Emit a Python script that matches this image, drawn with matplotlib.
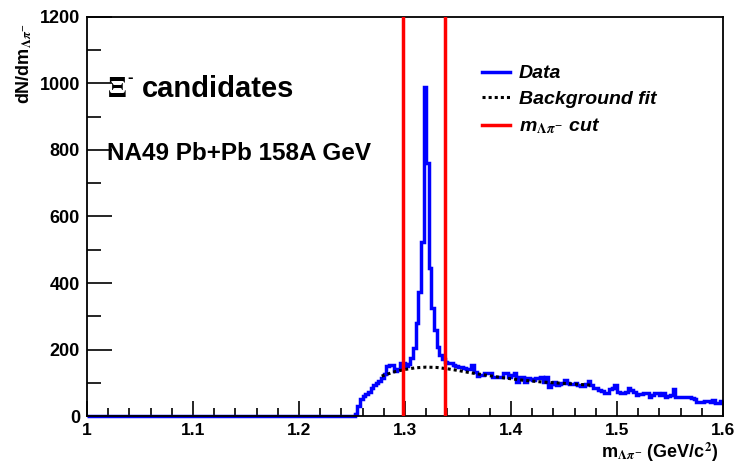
import matplotlib
matplotlib.use("Agg")
import matplotlib.pyplot as plt
import numpy as np
from matplotlib.lines import Line2D
from matplotlib.ticker import MultipleLocator

plt.rcParams['font.family'] = ['Liberation Sans', 'DejaVu Sans']
plt.rcParams['font.weight'] = 'bold'
plt.rcParams['mathtext.fontset'] = 'stix'

# histogram: 240 bins of 2.5 MeV between 1.0 and 1.6 GeV
mass_min, mass_max, n_bins = 1.0, 1.6, 240
n_empty = 101  # bins below threshold, no entries
signal_counts = [
    5, 30, 50, 60, 66, 72, 84, 92, 100, 106,
    113, 125, 150, 154, 152, 136, 140, 158, 160, 150,
    155, 173, 204, 280, 374, 524, 990, 760, 444, 324,
    259, 208, 183, 170, 163, 160, 158, 153, 150, 148,
    148, 144, 141, 141, 153, 133, 120, 123, 123, 130,
    129, 129, 118, 118, 117, 117, 129, 129, 118, 122,
    129, 103, 118, 118, 103, 113, 110, 108, 114, 114,
    118, 103, 118, 88, 95, 103, 93, 96, 99, 108,
    100, 96, 96, 98, 94, 90, 90, 96, 106, 92,
    84, 84, 78, 75, 70, 70, 81, 85, 93, 73,
    68, 68, 73, 83, 78, 73, 63, 66, 66, 68,
    68, 58, 62, 68, 68, 63, 68, 58, 60, 63,
    81, 56, 58, 58, 58, 58, 56, 53, 50, 43,
    43, 43, 46, 45, 43, 48, 40, 38, 46,
]
counts = [0] * n_empty + signal_counts

# background fit
bkg_mass = [1.278, 1.29, 1.30, 1.31, 1.32, 1.33, 1.34, 1.35, 1.36, 1.37,
            1.38, 1.39, 1.40, 1.41, 1.42, 1.43, 1.44, 1.45, 1.46, 1.47, 1.475]
bkg_counts = [120, 133, 140, 145, 147, 146, 142, 137, 131, 126,
              121, 116, 112, 108, 105, 102, 100, 98, 96, 94, 93]

cuts = [1.298, 1.338]

x_ticks = [1.0, 1.1, 1.2, 1.3, 1.4, 1.5, 1.6]
x_tick_labels = ['1', '1.1', '1.2', '1.3', '1.4', '1.5', '1.6']
y_ticks = [0, 200, 400, 600, 800, 1000, 1200]

edges = np.linspace(mass_min, mass_max, n_bins + 1)

fig = plt.figure(figsize=(7.34, 4.63), dpi=100)
ax = fig.add_axes([0.1185, 0.1015, 0.8665, 0.8618])

ax.stairs(counts, edges, color='blue', lw=2.5, baseline=None, zorder=2, clip_on=False)
ax.plot(bkg_mass, bkg_counts, color='black', ls=(0, (1, 1)), lw=2.2, zorder=3)
for c in cuts:
    ax.axvline(c, color='red', lw=2.5, zorder=4)

ax.set_xlim(mass_min, mass_max)
ax.set_ylim(0, 1200)
ax.set_xticks(x_ticks)
ax.set_xticklabels(x_tick_labels)
ax.set_yticks(y_ticks)
ax.xaxis.set_minor_locator(MultipleLocator(0.02))
ax.yaxis.set_minor_locator(MultipleLocator(100))

ax.tick_params(axis='x', which='major', direction='in', length=11, width=1.2, pad=5, labelsize=12.5)
ax.tick_params(axis='x', which='minor', direction='in', length=6, width=1.2)
ax.tick_params(axis='y', which='major', direction='in', length=18, width=1.2, pad=5, labelsize=13)
ax.tick_params(axis='y', which='minor', direction='in', length=10, width=1.2)
for lab in ax.get_xticklabels() + ax.get_yticklabels():
    lab.set_fontweight('bold')
for s in ax.spines.values():
    s.set_linewidth(1.3)

ax.set_ylabel(r'dN/dm$_{\Lambda\pi^{-}}$', fontsize=13, fontweight='bold', loc='top')
ax.yaxis.set_label_coords(-0.083, 0.985)
ax.set_xlabel(r'm$_{\Lambda\pi^{-}}$ (GeV/c$^{2}$)', fontsize=13, fontweight='bold', loc='right')
ax.xaxis.set_label_coords(0.993, -0.062)

# "Xi^- candidates" label, built from three pieces so the superscript stays a short dash
x0, y0 = 1.0189, 960
ax.text(x0, y0, r'$\Xi$', fontsize=21, va='baseline')
ax.annotate('-', (x0, y0), xytext=(14.5, 11), textcoords='offset points',
            fontsize=12, fontweight='bold', va='baseline')
ax.annotate('candidates', (x0, y0), xytext=(25.2, 0), textcoords='offset points',
            fontsize=21, fontweight='bold', va='baseline')
ax.text(x0, 770, 'NA49 Pb+Pb 158A GeV', fontsize=17.5, fontweight='bold', va='baseline')

handles = [Line2D([], [], color='blue', lw=2.5),
           Line2D([], [], color='black', ls=(0, (1, 1)), lw=2.2),
           Line2D([], [], color='red', lw=2.5)]
labels = ['Data', 'Background fit', r'm$_{\Lambda\pi^{-}}$ cut']
ax.legend(handles, labels, loc='upper left', bbox_to_anchor=(0.621, 0.88),
          frameon=False, borderpad=0, borderaxespad=0, handlelength=1.45,
          handletextpad=0.45, labelspacing=0.42,
          prop={'size': 14, 'weight': 'bold', 'style': 'italic'})

fig.savefig('out.png', dpi=100, facecolor='white')
